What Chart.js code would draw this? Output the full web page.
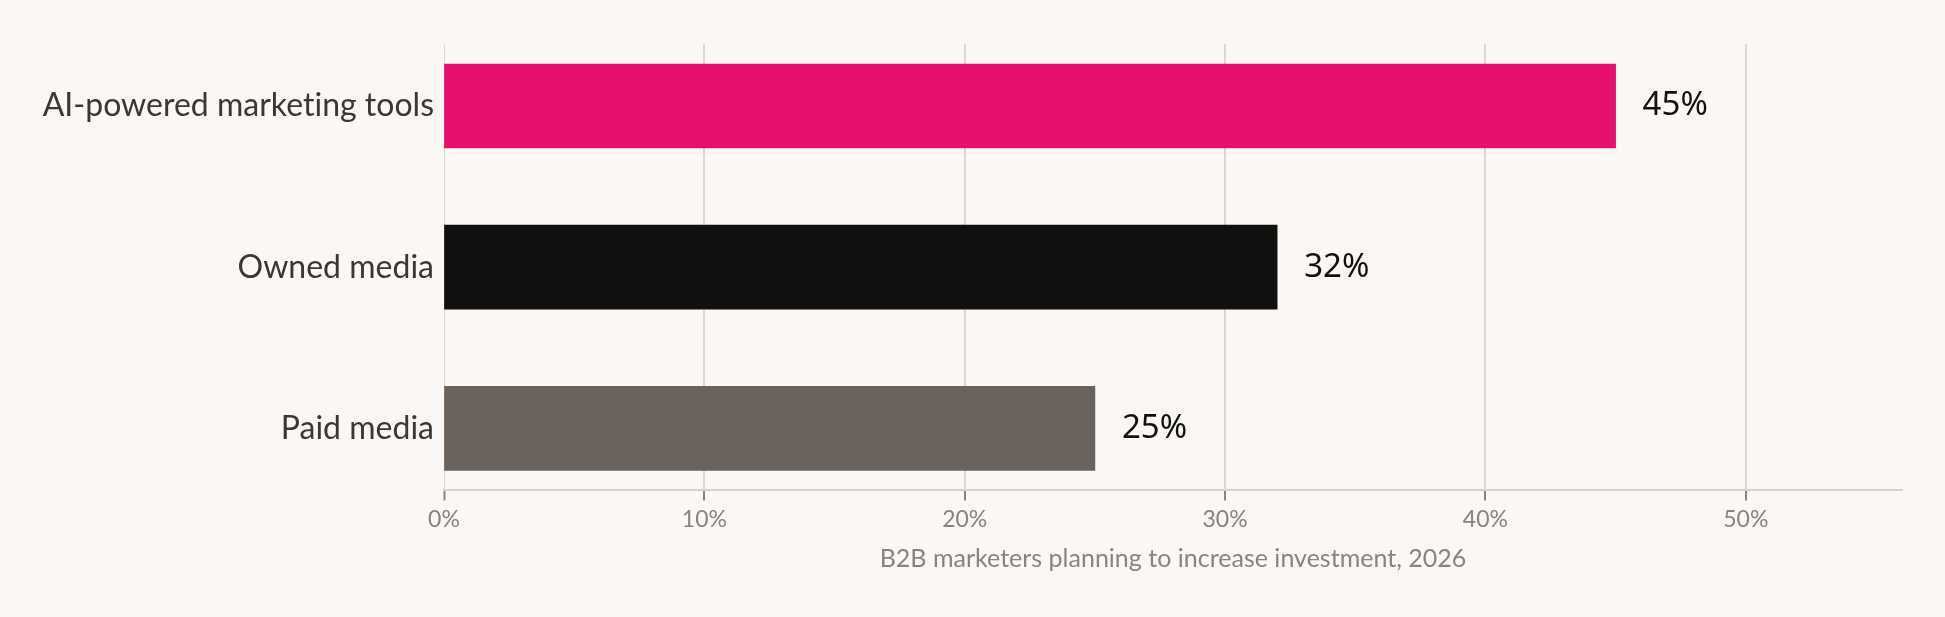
<!DOCTYPE html>
<html>
<head>
<meta charset="utf-8">
<script src="https://cdn.jsdelivr.net/npm/chart.js@4.4.0/dist/chart.umd.min.js"></script>
<style>
  html, body { margin: 0; padding: 0; background: #faf7f4; }
  #wrap { width: 1945px; height: 617px; position: relative; }
</style>
</head>
<body>
<div id="wrap"><canvas id="chart"></canvas></div>
<script>
// data
const categories = ["AI-powered marketing tools", "Owned media", "Paid media"];
const shares = [45, 32, 25];
const barColors = ["#e5106b", "#11100e", "#6b625c"];
const xTicks = [0, 10, 20, 30, 40, 50];
const xTitle = "B2B marketers planning to increase investment, 2026";

const bg = {
    id: "bg",
    beforeDraw(chart) {
        const c = chart.ctx;
        c.fillStyle = "#faf7f4";
        c.fillRect(0, 0, chart.width, chart.height);
        // tiny spacing keeps Lato from joining "ti" into a ligature
        c.letterSpacing = "0.01px";
    }
};

// value labels to the right of each bar
const valueLabels = {
    id: "valueLabels",
    afterDatasetsDraw(chart) {
        const c = chart.ctx;
        const meta = chart.getDatasetMeta(0);
        c.save();
        c.font = "33px 'Noto Sans'";
        c.fillStyle = "#111111";
        c.textAlign = "left";
        c.textBaseline = "middle";
        meta.data.forEach((bar, i) => {
            c.fillText(shares[i] + "%", bar.x + 27, bar.y);
        });
        c.restore();
    }
};

new Chart(document.getElementById("chart"), {
    type: "bar",
    data: {
        datasets: [{
            data: shares.map((v, i) => ({ x: v, y: i })),
            backgroundColor: barColors,
            barThickness: 84,
        }]
    },
    options: {
        indexAxis: "y",
        responsive: true,
        maintainAspectRatio: false,
        animation: false,
        layout: { padding: { top: 44, right: 43, bottom: 43, left: 0 } },
        plugins: {
            legend: { display: false },
            tooltip: { enabled: false },
        },
        scales: {
            x: {
                type: "linear",
                min: 0,
                max: 56,
                afterBuildTicks: (axis) => { axis.ticks = xTicks.map(v => ({ value: v })); },
                grid: {
                    color: "#ddd6d0",
                    lineWidth: (ctx) => ctx.tick && ctx.tick.value === 0 ? 1 : 2,
                    tickColor: "#8a837e",
                    tickWidth: 2,
                    tickLength: 10,
                },
                border: { color: "#d9d2cc", width: 2 },
                ticks: {
                    padding: 5,
                    color: "#8a837e",
                    font: { family: "Lato", size: 23 },
                    callback: (v) => v + "%",
                },
                title: {
                    display: true,
                    text: xTitle,
                    color: "#8a837e",
                    font: { family: "Lato", size: 25 },
                    padding: { top: 6, bottom: 0 },
                },
            },
            y: {
                type: "linear",
                reverse: true,
                offset: false,
                min: -0.385,
                max: 2.385,
                afterBuildTicks: (axis) => { axis.ticks = categories.map((_, i) => ({ value: i })); },
                afterFit: (axis) => { axis.width = 444; },
                grid: { display: false, drawTicks: false, offset: false },
                border: { display: false },
                ticks: {
                    padding: 10,
                    color: "#3b3734",
                    font: { family: "Lato", size: 32 },
                    callback: (v) => categories[v],
                },
            },
        },
    },
    plugins: [bg, valueLabels],
});
</script>
</body>
</html>
